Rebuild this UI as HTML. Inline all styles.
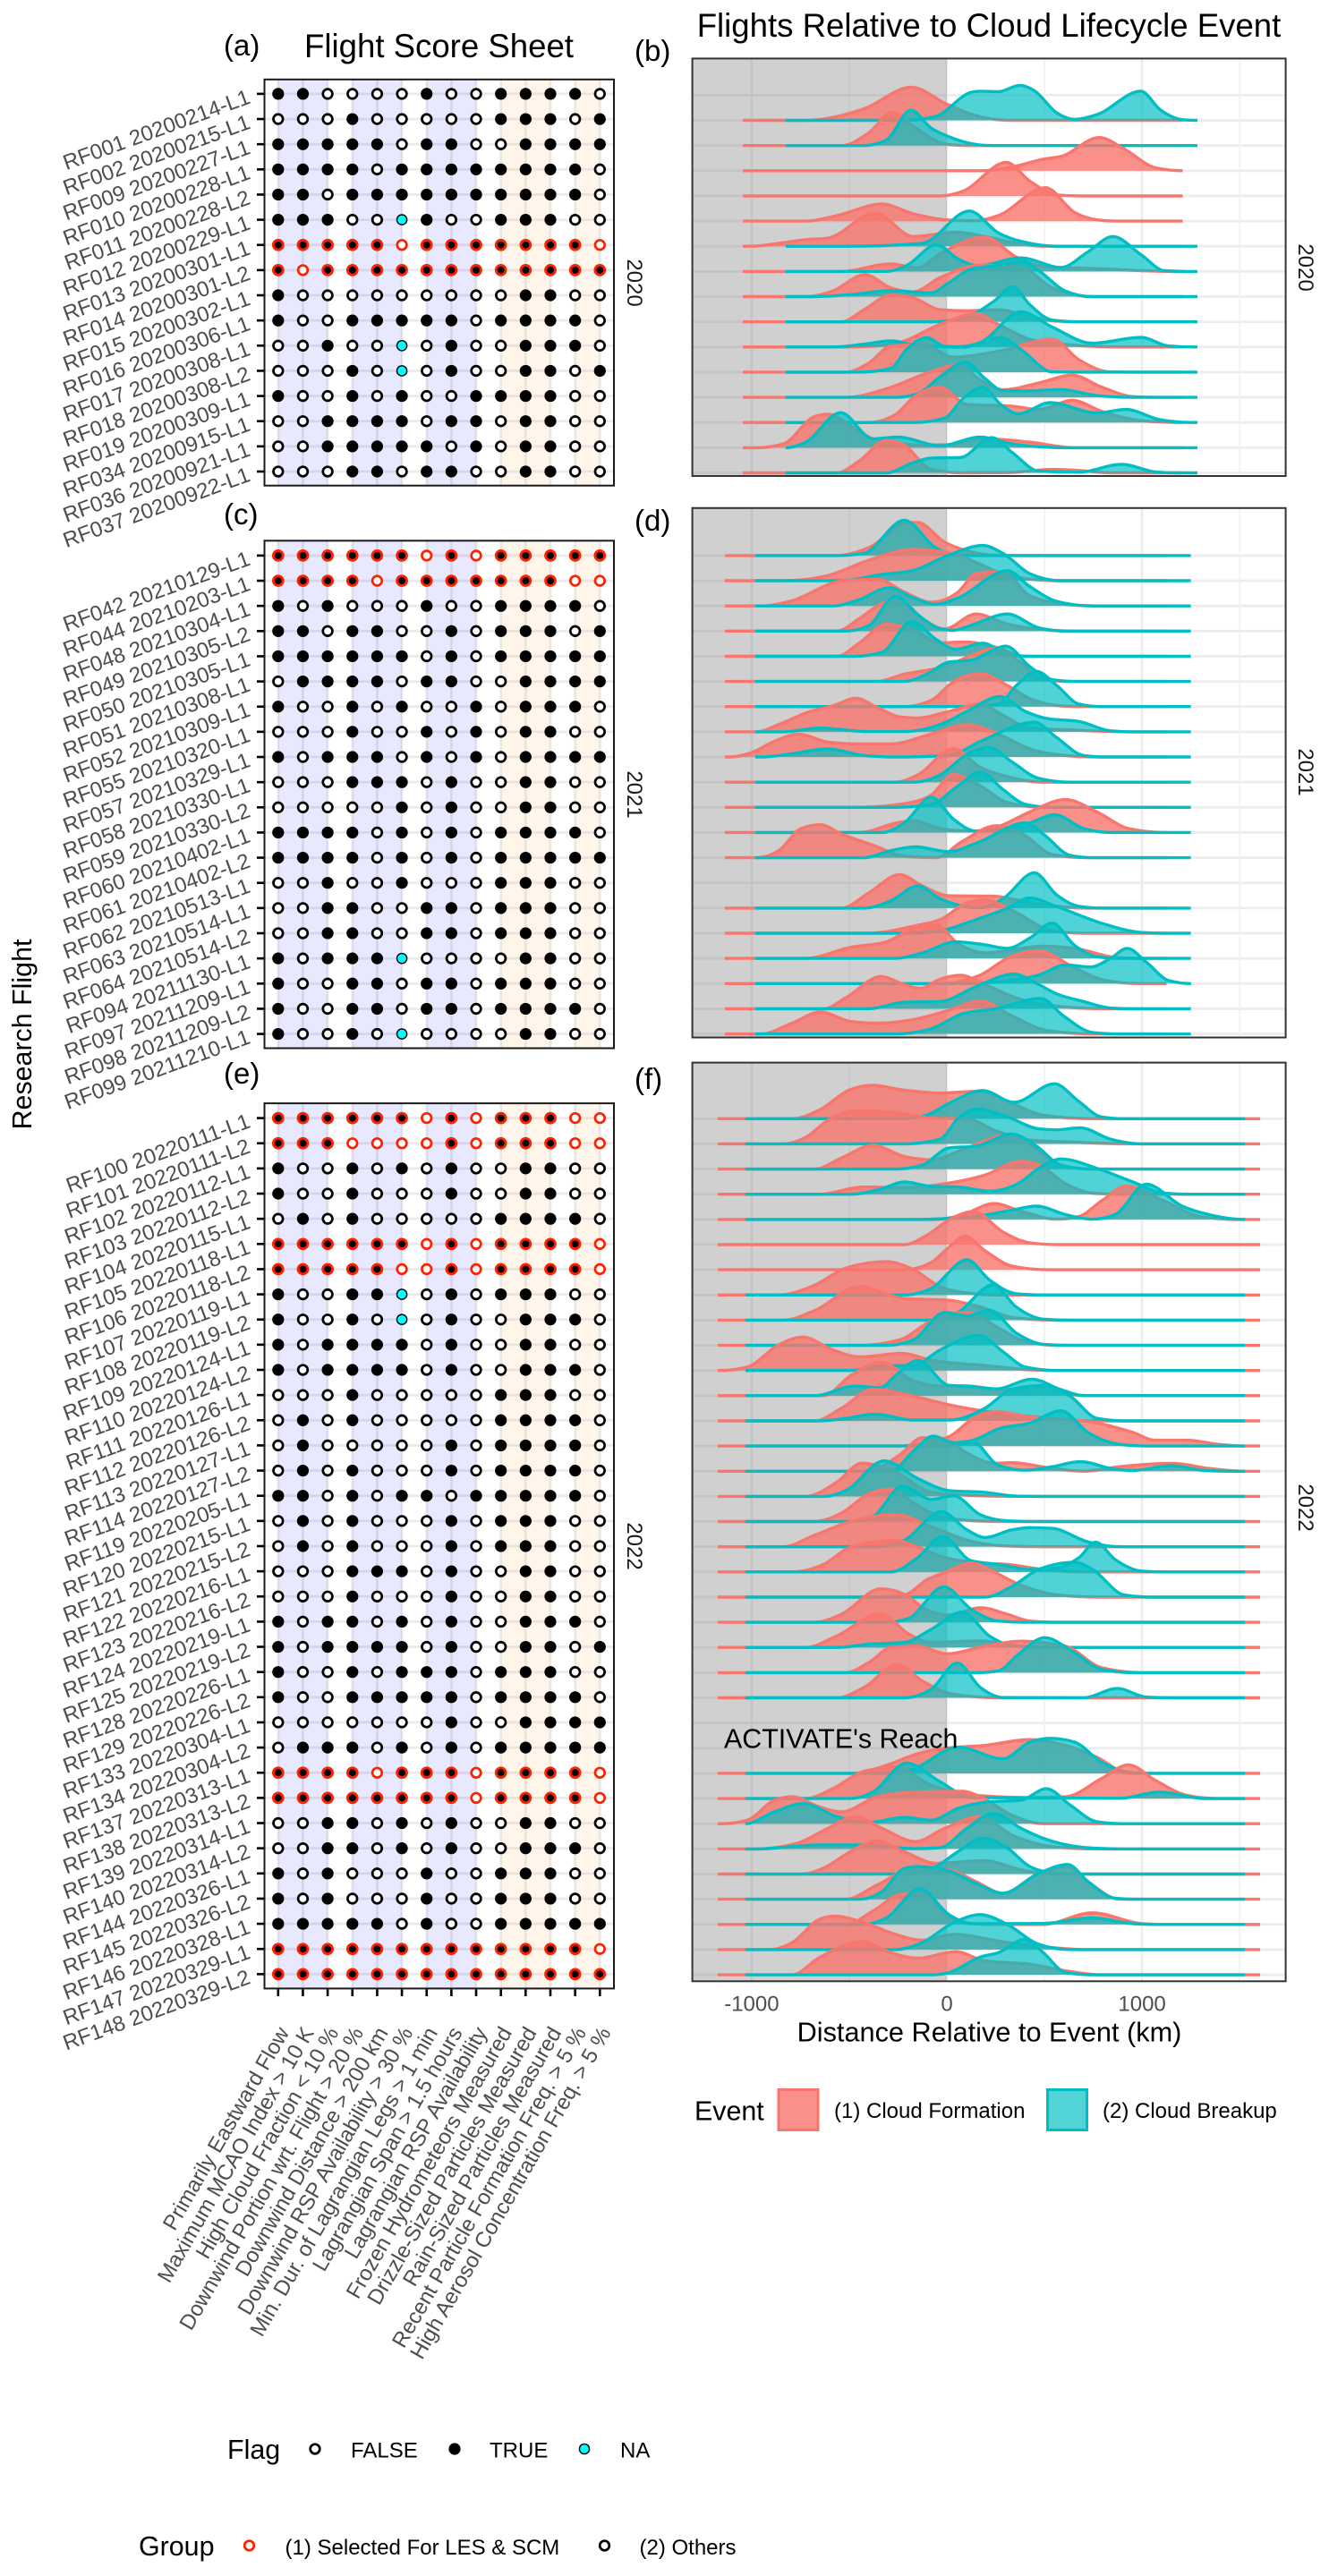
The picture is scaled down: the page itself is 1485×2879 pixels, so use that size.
<!DOCTYPE html>
<html lang="en">
<head>
<meta charset="utf-8">
<title>ACTIVATE Flight Score Sheet and Cloud Lifecycle Ridges</title>
<style>
html,body{margin:0;padding:0;background:#fff;}
svg{display:block;font-family:"Liberation Sans",Arial,sans-serif;}
.tag{font-size:33px;fill:#000;}
.title{font-size:36.6px;fill:#000;text-anchor:middle;}
.strip{font-size:24px;fill:#1a1a1a;text-anchor:middle;}
.axt{font-size:30.4px;fill:#000;}
.tick{font-size:24px;fill:#4d4d4d;}
.crit{font-size:24px;fill:#4d4d4d;}
.leg{font-size:24px;fill:#000;}
</style>
</head>
<body>
<svg id="chart" xmlns="http://www.w3.org/2000/svg" width="1485" height="2879" viewBox="0 0 1485 2879">
<rect x="0" y="0" width="1485" height="2879" fill="#fff"/>
<text class="tag" x="250" y="62">(a)</text>
<text class="tag" x="250" y="586">(c)</text>
<text class="tag" x="250" y="1211">(e)</text>
<text class="tag" x="709" y="68">(b)</text>
<text class="tag" x="709" y="593">(d)</text>
<text class="tag" x="709" y="1217">(f)</text>
<text class="title" x="490.5" y="64">Flight Score Sheet</text>
<text class="title" x="1105" y="41">Flights Relative to Cloud Lifecycle Event</text>
<text class="axt" transform="translate(35,1156) rotate(-90)" text-anchor="middle">Research Flight</text>
<text class="strip" transform="translate(701,316) rotate(90)">2020</text>
<text class="strip" transform="translate(701,888) rotate(90)">2021</text>
<text class="strip" transform="translate(701,1728) rotate(90)">2022</text>
<text class="strip" transform="translate(1451,299) rotate(90)">2020</text>
<text class="strip" transform="translate(1451,863) rotate(90)">2021</text>
<text class="strip" transform="translate(1451,1685) rotate(90)">2022</text>
<g id="score2020"></g>
<g id="score2021"></g>
<g id="score2022"></g>
<g id="ridge2020"></g>
<g id="ridge2021"></g>
<g id="ridge2022"></g>
<g id="criteriaLabels"></g>
<g id="kmLabels"></g>
<text x="809" y="1953.5" style="font-size:30.4px" fill="#000">ACTIVATE's Reach</text>
<text class="axt" x="1105.5" y="2281.5" text-anchor="middle" style="font-size:30.7px">Distance Relative to Event (km)</text>
<g>
<text class="axt" x="776" y="2369.5">Event</text>
<rect x="870" y="2335.5" width="44" height="45" fill="#F8766D" fill-opacity=".8" stroke="#F8766D" stroke-width="3"/>
<text class="leg" x="932" y="2367">(1) Cloud Formation</text>
<rect x="1170.5" y="2335.5" width="44" height="45" fill="#00BFC4" fill-opacity=".68" stroke="#00BFC4" stroke-width="3"/>
<text class="leg" x="1232" y="2367">(2) Cloud Breakup</text>
</g>
<g>
<text class="axt" x="254" y="2748">Flag</text>
<circle cx="352" cy="2737" r="5.3" fill="#fff" stroke="#000" stroke-width="2.7"/>
<text class="leg" x="392" y="2746.5">FALSE</text>
<circle cx="508" cy="2737" r="6.6" fill="#000"/>
<text class="leg" x="547" y="2746.5">TRUE</text>
<circle cx="653" cy="2737" r="5.6" fill="#00ffff" stroke="#000" stroke-width="1.4"/>
<text class="leg" x="693" y="2746.5">NA</text>
</g>
<g>
<text class="axt" x="155" y="2856">Group</text>
<circle cx="278.5" cy="2845" r="5.3" fill="#fff" stroke="#ff2000" stroke-width="2.7"/>
<text class="leg" x="318.5" y="2855">(1) Selected For LES &amp; SCM</text>
<circle cx="675.5" cy="2845" r="5.3" fill="#fff" stroke="#000" stroke-width="2.7"/>
<text class="leg" x="714.5" y="2855">(2) Others</text>
</g>
</svg>
<script>
// ---------- score sheet data ----------
const criteria = ["Primarily Eastward Flow","Maximum MCAO Index > 10 K","High Cloud Fraction < 10 %","Downwind Portion wrt. Flight > 20 %","Downwind Distance > 200 km","Downwind RSP Availability > 30 %","Min. Dur. of Lagrangian Legs > 1 min","Lagrangian Span > 1.5 hours","Lagrangian RSP Availability","Frozen Hydrometeors Measured","Drizzle-Sized Particles Measured","Rain-Sized Particles Measured","Recent Particle Formation Freq. > 5 %","High Aerosol Concentration Freq. > 5 %"];
const flights2020 = ["RF001 20200214-L1","RF002 20200215-L1","RF009 20200227-L1","RF010 20200228-L1","RF011 20200228-L2","RF012 20200229-L1","RF013 20200301-L1","RF014 20200301-L2","RF015 20200302-L1","RF016 20200306-L1","RF017 20200308-L1","RF018 20200308-L2","RF019 20200309-L1","RF034 20200915-L1","RF036 20200921-L1","RF037 20200922-L1"];
const flights2021 = ["RF042 20210129-L1","RF044 20210203-L1","RF048 20210304-L1","RF049 20210305-L2","RF050 20210305-L1","RF051 20210308-L1","RF052 20210309-L1","RF055 20210320-L1","RF057 20210329-L1","RF058 20210330-L1","RF059 20210330-L2","RF060 20210402-L1","RF061 20210402-L2","RF062 20210513-L1","RF063 20210514-L1","RF064 20210514-L2","RF094 20211130-L1","RF097 20211209-L1","RF098 20211209-L2","RF099 20211210-L1"];
const flights2022 = ["RF100 20220111-L1","RF101 20220111-L2","RF102 20220112-L1","RF103 20220112-L2","RF104 20220115-L1","RF105 20220118-L1","RF106 20220118-L2","RF107 20220119-L1","RF108 20220119-L2","RF109 20220124-L1","RF110 20220124-L2","RF111 20220126-L1","RF112 20220126-L2","RF113 20220127-L1","RF114 20220127-L2","RF119 20220205-L1","RF120 20220215-L1","RF121 20220215-L2","RF122 20220216-L1","RF123 20220216-L2","RF124 20220219-L1","RF125 20220219-L2","RF128 20220226-L1","RF129 20220226-L2","RF133 20220304-L1","RF134 20220304-L2","RF137 20220313-L1","RF138 20220313-L2","RF139 20220314-L1","RF140 20220314-L2","RF144 20220326-L1","RF145 20220326-L2","RF146 20220328-L1","RF147 20220329-L1","RF148 20220329-L2"];
const selected = ["RF013","RF014","RF042","RF044","RF100","RF101","RF105","RF106","RF137","RF138","RF147","RF148"];
const flags2020 = ["TTFFFFTFFTTTTF","FFFTFFFFFTTTFT","TTTTTFTTFFTTTT","TTTTFTTTTTTTTF","TTFTTTTTTTTTTF","TTTFFNTFFTTTFF","TTTTTFTTTTTTTF","TFTTTTTTTTTTTT","TFFFFFFFFFTTFF","TFFTTTTTFTTTTF","FFTFFNFTFFTTTF","FFFTFNFTFFTTFT","TFFTFTFFTTTTFF","FFTTTTFTTFTTFF","FFTTTTTFTFTTFF","FFFTTFTTFFTTFF"];
const flags2021 = ["TTTTTTFTFTTTTT","TTTTFTTTTTTTFF","TFTFFFTFFTTTTF","TTFTTFFTFTTTFT","TTTTTTFTFTTTTT","FTTTTFTTFFTTTT","TFFTFTFFTFTTTF","FFFTFFTFTFTTFF","TFTTTFTFTFTTTT","FFFTTTFTFFTTFF","FFFFFTFTFFTTFF","TTTTFTFTFTTTTF","TTTTFTFTFTTTTT","FFTFFTFFFTTTFF","FFTTFFTTFTTTFF","FFTTFFTTFTTTFF","TFTTTNFFFFTTFF","TFFTTFTTFTTTFF","TFFTTFTTFTTTTF","TFFTFNFFFFTTFF"];
const flags2022 = ["TTTTTTFTFTTTFF","TTTFFFFTFTTTFF","TFFTFTFTFFTTFF","TFFTFFFTFFTTFF","FTFTFFFFFTTTTF","TTTTTTFTFTTTTF","TTTTTFFTFTTTTF","TFFTTNFTFTTTFF","TFFTFNFTFFTTTF","TFTTTTFTFFTTFF","TFTTTTFTFFTTTF","FFFTFFFFFTTTFF","FTFTFFFFFTTTTF","FTFFFFFTFTTTTF","FTFTFFFTFTTTTF","TTFTFTTFTTTTTF","FTFTFFFTFTTTFF","FTFTFFFTFTTTFF","FFFTTTFTFFTTFF","FFFTFFFTFFTTFF","TFTTFTFTFFTTTF","TFTTTTFTFFTTFT","TFFTFTTTFTTTFF","TFFTTTTTFTTTTF","FFFFFFFTFFTTTT","FTTTFTFTFTTTTT","TTTTFTTTFTTTTF","TTTTTTTTFTTTTF","FFTTFTFTFFTTFF","FFTTFTFTFFTTTF","TFTFFFTFFTTTFF","TFTFFFTFFTTTFF","TTTTTFTFFTTTTT","TTTTTTTTTTTTTF","TTTTTTTTTTTTTT"];
const bandsBlue = [[1,3],[4,6],[7,9]];
const bandsOrange = [[10,12],[13,14]];
// ---------- ridge data: flat [km, density-height, km, density-height ...] per flight ----------
const distanceTicks = [-1000,0,1000];
const distanceMinorTicks = [-500,500,1500];
const formationRange2020 = [-1045,1208];
const breakupRange2020 = [-826,1284];
const formationRange2021 = [-1137,1125];
const breakupRange2021 = [-981,1250];
const formationRange2022 = [-1174,1605];
const breakupRange2022 = [-1032,1527];
const formation2020 = [null,
[-723,0,-425,.46,-181,1.32,0,.64,195,.1,333,0],
[-540,0,-402,.49,-276,1.33,-172,.76,0,.05,103,0],
[172,0,356,.19,494,.46,586,.57,781,1.32,907,.87,1068,.12,1205,0],
[-34,0,80,.18,305,1.33,425,.59,563,.04,677,0],
[-723,0,-563,.22,-333,.68,-172,.29,11,.04,138,.01,264,.22,505,1.33,654,.35,769,.05,861,0],
[-999,0,-861,.12,-723,.26,-608,.33,-367,1.32,-172,.39,46,.56,195,.39,356,.12,494,0],
[-540,0,-287,.3,-149,.14,-34,.71,195,1.36,356,.57,540,.16,746,.12,999,.03,1137,0],
[-723,0,-585,.22,-420,.87,-287,.35,-172,.19,-34,.76,172,1.25,379,1.17,540,.35,746,0],
[-540,0,-425,.48,-287,1.06,-172,.95,-34,.48,103,.44,264,.48,425,.2,563,.03,677,0],
[-494,0,-264,.14,-34,.9,149,1.33,264,.9,425,.31,654,.07,884,0],
[-517,0,-402,.35,-287,1.03,-126,1.1,34,.6,264,.83,540,1.31,677,.49,838,.01,953,0],
[-517,0,-310,.34,-80,1.02,57,1.29,172,.68,287,.3,471,.57,643,.88,792,.41,953,.03,1091,0],
[-402,0,-264,.31,-172,.99,-34,1.4,103,.72,333,.65,471,.52,643,.88,792,.45,999,.07,1205,0],
[-976,0,-838,.15,-677,1.24,-608,1.33,-471,.76,-356,.29,-126,.11,11,.12,195,.35,425,.22,654,0],
[-563,0,-448,.48,-310,1.29,-218,1.09,-80,.14,80,0,310,.01,540,.14,654,.11,838,0]];
const breakup2020 = [null,
[-218,0,-57,.16,126,1.12,172,1.16,264,1.14,374,1.39,448,1.18,563,.3,654,.04,769,.23,994,1.16,1091,.44,1205,.03,1284,0],
[-425,0,-310,.22,-184,1.4,-80,.69,11,.35,195,.01,264,0],
null,null,null,
[-494,0,-126,.12,115,1.4,264,.53,425,.12,563,0],
[-310,0,-207,.23,-53,1.06,57,.5,161,.23,379,.54,585,.16,723,.78,850,1.39,999,.64,1114,.03,1228,0],
[-677,0,-494,.08,-287,.24,-80,.15,11,.56,126,1.1,264,1.24,390,1.4,471,1.03,608,.22,746,0],
[-80,0,103,.2,241,.82,338,1.39,425,.68,540,.07,677,0],
[-585,0,-425,.11,-287,.24,-126,.03,57,.01,172,.18,379,1.4,540,.79,746,.15,994,.38,1137,.04,1274,0],
[-448,0,-287,.15,-207,.9,-103,1.37,-11,1.03,80,.99,276,1.37,379,.9,540,.01,654,0],
[-264,0,-149,.14,-34,.82,96,1.4,195,.75,287,.27,425,.26,585,.31,769,.07,953,0],
[-172,0,-11,.18,80,.93,184,1.4,276,.72,367,.35,528,.79,769,.38,918,.52,1091,.11,1251,0],
[-826,0,-723,.22,-544,1.39,-379,.35,-253,.42,-34,.08,172,.42,333,.15,608,0],
[-310,0,-172,.41,-80,.59,69,.61,230,1.4,333,.82,471,.07,677,.03,895,.34,1068,.04,1182,0]];
const formation2021 = [
[-563,0,-402,.31,-195,1.31,-149,1.31,-11,.53,103,.19,264,.01,380,0],
[-838,0,-608,.21,-402,.81,-172,1.24,46,1.05,172,.65,310,.21,563,0],
[-953,0,-792,.21,-540,.99,-356,1.06,-218,.55,-80,.15,57,.55,149,1.28,287,1.36,425,.4,654,.03,780,0],
[-563,0,-448,.5,-333,1.09,-241,1.24,-126,.5,-11,.09,149,.68,310,.28,540,.03,660,0],
[-563,0,-448,.53,-310,1.27,-172,1.05,-34,.53,92,.57,241,.38,402,0],
[-356,0,-218,.29,-103,.44,-11,.59,126,1.03,264,1.33,379,.74,494,.07,632,0],
[-218,0,-80,.25,34,.99,172,1.31,310,.84,425,.32,585,.03,700,0],
[-976,0,-861,.29,-700,.81,-585,1.03,-464,1.33,-356,.96,-241,.59,-149,.55,11,.81,172,1.1,287,.66,425,.15,654,.07,930,0],
[-1114,0,-999,.18,-884,.62,-762,.91,-608,.59,-448,.52,-287,.52,-80,.91,103,1.28,264,.91,425,.32,608,.06,769,0],
[-264,0,-149,.29,34,1.33,172,.59,310,.22,494,0],
[-448,0,-218,.15,-80,.49,34,1.3,172,.85,310,.19,494,0],
[-448,0,-241,.41,-172,.46,-34,.16,126,.06,264,.24,425,.82,608,1.31,769,.82,930,.16,1114,0],
[-976,0,-861,.28,-746,1.16,-648,1.31,-540,.94,-379,.5,-218,.06,-57,0,80,.65,253,1.27,402,.87,540,.13,723,0],
null,
[-540,0,-402,.59,-241,1.33,-126,.88,11,.49,241,.47,379,.29,563,.07,700,0],
[-402,0,-149,.32,-34,.54,103,1.21,195,1.33,333,.91,540,.1,700,0],
[-723,0,-494,.44,-310,.66,-149,1.25,-57,1.33,57,.59,195,.22,494,.49,677,.37,861,.04,999,0],
[-34,0,172,.34,310,1,471,1.3,654,.63,815,.12,999,0],
[-631,0,-517,.44,-338,1.28,-218,.96,-138,.81,-34,1.18,69,1.33,195,.96,379,.37,608,.07,815,0],
[-953,0,-792,.43,-648,.87,-494,.5,-356,.43,-172,.57,11,.94,172,1.31,333,.72,517,.13,769,0]];
const breakup2021 = [
[-563,0,-425,.09,-218,1.4,-57,.31,57,.01,172,0],
[-540,0,-333,.25,-172,.41,11,1.02,184,1.4,287,1.09,425,.28,585,0],
[-585,0,-448,.25,-298,.72,-172,.32,-57,.07,57,.32,310,1.4,425,.77,563,.18,746,0],
[-517,0,-402,.21,-264,1.38,-149,.65,-34,.09,34,.03,126,.24,310,.68,471,.13,608,0],
[-471,0,-333,.16,-179,1.38,-57,.68,46,.28,184,.52,310,.09,425,0],
[-218,0,-103,.29,11,.77,126,.85,303,1.4,425,.59,540,.07,654,0],
[103,0,264,.1,356,.84,459,1.4,563,.84,677,.1,792,0],
[-838,0,-654,.15,-402,.01,-218,.01,-34,.29,103,.81,271,1.4,402,.81,517,.52,677,.41,838,.04,953,0],
[-953,0,-792,.13,-613,.32,-425,.06,-264,0,11,.06,172,.62,448,1.38,563,.77,700,.06,815,0],
[-172,0,-34,.29,103,1.1,218,1.38,333,.81,471,.15,632,0],
[-264,0,-80,.12,57,.85,172,1.4,287,.71,402,.12,540,0],
[-333,0,-218,.38,-80,1.4,34,.53,149,.06,310,.16,425,.38,551,.71,700,.16,838,0],
[-425,0,-287,.28,-161,.43,11,.24,149,.57,402,1.38,494,.94,632,.09,746,0],
null,
[-425,0,-287,.29,-149,.88,-34,.37,172,.01,287,.37,448,1.4,563,.52,677,.07,792,0],
[-218,0,-34,.1,149,.54,310,.99,425,1.4,563,1.06,792,.4,999,.03,1137,0],
[-264,0,-126,.22,46,.66,195,.54,310,.4,425,.81,540,1.4,654,.52,769,.07,884,0],
[103,0,310,.12,471,.34,608,.74,735,.66,838,1,925,1.4,1022,.85,1137,.12,1251,0],
[-402,0,-218,.26,-34,.29,149,.88,344,1.38,471,.96,563,.59,700,.29,838,.03,953,0],
[-264,0,-80,.21,80,.8,241,.99,482,1.41,597,.72,746,.06,884,0]];
const formation2022 = [
[-792,0,-654,.34,-494,1.16,-379,1.33,-241,1.16,-34,1.02,172,1.09,333,.61,494,.14,746,0],
[-838,0,-723,.26,-608,.94,-471,1.32,-264,1.24,-57,1.01,103,1,241,.55,425,.15,654,.07,907,0],
[-677,0,-540,.44,-379,.94,-218,.5,-80,.37,103,.84,310,1.35,425,.98,608,.1,746,0],
[-654,0,-425,.29,-218,.26,-34,.39,195,.76,379,1.31,471,1.17,608,.42,746,.04,884,0],
[-57,0,80,.19,241,.63,379,.33,563,.01,677,.12,792,.73,918,1.32,1114,.73,1297,.12,1481,0],
[-218,0,-103,.37,11,.98,138,1.32,287,.5,425,.07,563,0],
[-218,0,-80,.29,11,.9,92,1.33,195,.76,333,.15,517,0],
[-861,0,-677,.39,-517,1.07,-310,1.32,-172,1.01,-34,.33,103,.08,264,0],
[-838,0,-677,.38,-448,1.33,-218,.86,11,.79,172,.52,333,.11,540,0],
[-448,0,-241,.22,-80,.97,103,1.31,264,.69,379,.22,563,0],
[-1160,0,-1022,.14,-861,1.02,-739,1.33,-585,.82,-448,.54,-230,.68,-80,.41,195,.2,425,.03,585,0],
[-631,0,-494,.79,-338,1.33,-172,.59,-34,.38,103,.38,287,.24,517,.38,632,.04,769,0],
[-677,0,-540,.5,-379,1.25,-172,.98,11,.64,241,.33,471,.14,746,0],
[-264,0,0,.34,149,1.16,253,1.36,425,1.16,746,.95,953,.54,1068,.23,1228,.23,1389,.07,1527,0],
[-402,0,-241,.65,-126,1.33,-11,1.27,103,.72,241,.31,333,.34,517,.14,700,0,884,.18,1159,.31,1343,.11,1527,0],
[-723,0,-563,.57,-436,1.32,-264,.98,-80,.16,149,.03,333,0],
[-677,0,-540,.34,-402,1.09,-287,1.29,-172,.75,-34,.2,126,.04,310,0],
[-838,0,-677,.46,-494,1,-264,1.28,-80,.8,103,.26,264,.05,471,0],
[-792,0,-631,.3,-494,.98,-264,1.25,-149,.98,-11,.57,149,.37,310,.3,494,.1,677,0],
[-379,0,-218,.09,-103,.68,0,1.01,126,1.35,241,1,356,.55,563,.09,792,0],
[-677,0,-540,.32,-338,1.33,-218,1.11,-103,.5,11,.29,172,.58,310,.32,425,.05,563,0],
[-723,0,-563,.46,-340,1.34,-195,.53,-80,.2,172,.26,379,.07,563,0],
[-517,0,-402,.39,-287,.99,-149,1.05,0,.75,195,1.05,379,1.25,608,1.05,792,.2,999,0],
[-563,0,-425,.41,-253,1.32,-126,.67,34,.14,264,0],
null,null,
[-471,0,-310,.32,-149,.78,-34,.97,195,1.11,425,1.34,608,1.11,769,.64,930,0],
[-723,0,-585,.39,-425,1.08,-264,1.25,-80,.53,149,.13,425,.04,608,.07,792,.79,930,1.34,1068,.72,1228,.13,1389,0],
[-1148,0,-1022,.14,-884,.93,-792,1.07,-654,.67,-540,.47,-356,1.07,-149,1.26,80,1.29,172,1.07,333,.34,494,0],
[-976,0,-769,.22,-608,.82,-471,1.28,-333,.82,-161,.29,-11,.82,172,1.28,333,.55,540,.09,769,0],
[-746,0,-631,.24,-494,.89,-360,1.32,-218,.89,-57,.43,195,.53,379,.17,563,0],
[-517,0,-356,.57,-172,1.22,11,1.16,149,.7,287,.24,471,1.03,620,1.3,723,.7,884,0],
[-517,0,-379,.53,-241,1.18,-126,1.25,11,.26,195,0,494,0,746,.46,999,.03,1114,0],
[-907,0,-792,.28,-654,1.2,-574,1.33,-425,1.07,-264,.61,-126,.37,34,.61,310,.28,540,.08,700,0],
[-792,0,-654,.68,-436,1.32,-287,.88,-149,.66,46,.92,195,.55,425,.42,632,.13,792,0]];
const breakup2022 = [
[-218,0,-103,.14,11,.61,184,1.12,344,.65,551,1.39,677,.68,792,.07,907,0],
[-218,0,-34,.19,57,1.01,154,1.39,310,1.07,471,.6,563,.56,682,.64,838,.19,999,0],
[-264,0,-126,.16,11,.84,149,.91,333,1.39,459,.91,585,.16,746,0],
[-494,0,-333,.22,-218,.49,-80,.31,57,.29,218,.12,379,.49,471,1.03,585,1.4,769,1.03,953,.49,1114,.04,1251,0],
[-172,0,126,.1,310,.33,459,.53,608,.19,746,.01,861,.19,1022,1.4,1205,.53,1343,.19,1527,0],
null,null,
[-218,0,-80,.26,103,1.4,218,.6,356,.05,494,0],
[-80,0,57,.31,236,1.4,356,.52,494,.04,632,0],
[-310,0,-172,.22,-11,1.31,103,1.17,218,1.4,356,.49,494,.04,632,0],
[-494,0,-333,.18,-172,.2,-34,.82,165,1.4,287,.75,402,.14,563,0],
[-677,0,-471,.38,-344,.31,-264,.79,-149,1.4,11,.41,103,.38,253,.27,436,.65,585,.24,700,0],
[-654,0,-517,.1,-367,.27,-172,.03,11,.03,195,.5,333,1.25,494,1.41,632,.98,769,.1,907,0],
[-34,0,149,.27,264,.68,425,.91,585,1.4,723,.54,884,.07,1022,0],
[-287,0,-172,.79,-69,1.4,34,1.13,126,1.2,264,.24,402,.04,540,.18,682,.38,861,.08,953,.03,1148,.22,1320,.03,1458,0],
[-631,0,-517,.23,-321,1.41,-149,.71,11,.23,195,.16,356,.01,494,0],
[-494,0,-379,.2,-227,1.4,-80,.88,34,1.02,172,.27,310,.03,471,0],
[-356,0,-218,.26,-28,1.4,103,.67,195,.37,333,.67,425,.76,540,.73,723,.19,861,.01,976,0],
[-287,0,-149,.57,-23,1.41,126,.44,264,.3,425,.1,563,.16,677,.57,762,1.18,861,.5,999,.03,1114,0],
[195,0,333,.42,471,1.1,654,1.38,746,1.1,907,.09,1045,0],
[-310,0,-195,.16,-16,1.41,126,.51,264,.05,402,0],
[-563,0,-402,.13,-218,.2,-80,.72,80,1.41,218,.46,333,.07,494,0],
[149,0,264,.07,356,.66,501,1.39,654,.79,792,.13,953,0],
[-218,0,-80,.34,53,1.39,172,.41,287,.01,700,0,873,.37,1022,.03,1159,0],
null,null,
[-310,0,-172,.18,57,1.04,287,.58,425,1.24,528,1.39,654,1.24,792,.45,953,.03,1050,0],
[-494,0,-379,.26,-207,1.41,-34,.66,126,.04,884,.01,1091,.26,1320,0],
[-1031,0,-884,.47,-735,.8,-563,.28,-402,.05,-218,.25,-80,.14,57,.61,218,.87,379,.93,510,1.39,632,.74,769,.08,907,0],
[-976,0,-654,.16,-448,.16,-172,.01,-34,.05,103,.82,241,1.41,379,.82,494,.42,746,.03,884,0],
[-218,0,-57,.3,57,.89,184,1.42,310,1.03,425,.3,563,.03,690,0],
[-448,0,-333,.3,-218,1.22,-149,1.3,11,1.12,149,.63,287,.24,471,1.03,620,1.38,723,.7,861,.04,976,0],
[-425,0,-310,.26,-138,1.41,11,.39,126,.03,494,.04,746,.26,953,.03,1091,0],
[-264,0,-126,.28,34,1.07,172,1.39,310,1,471,.21,632,0],
[-80,0,11,.09,172,.71,264,.88,402,1.41,494,.88,608,.09,746,0]];

// ---------- geometry and axis functions ----------
const svg = document.getElementById('chart');
const NS = 'http://www.w3.org/2000/svg';
const ROW = 28.14;
const SCORE_LEFT = 295.5, SCORE_RIGHT = 686;
const RIDGE_LEFT = 773.6, RIDGE_RIGHT = 1436.6;
function colX(j){ return 310.8 + j * 27.654; }
function kmX(km){ return 1058 + km * 0.2181; }
function make(parent, tag, attrs, text){
  const n = document.createElementNS(NS, tag);
  for (const k in attrs) n.setAttribute(k, attrs[k]);
  if (text !== undefined) n.textContent = text;
  parent.appendChild(n);
  return n;
}
function monotonePath(p){
  const n = p.length, t = new Array(n).fill(0), s = [], h = [];
  for (let i = 0; i < n - 1; i++){ h[i] = p[i+1][0]-p[i][0]; s[i] = (p[i+1][1]-p[i][1])/h[i]; }
  for (let i = 1; i < n - 1; i++){
    if (s[i-1]*s[i] <= 0) { t[i] = 0; continue; }
    const q = (s[i-1]*h[i]+s[i]*h[i-1])/(h[i-1]+h[i]);
    t[i] = Math.sign(s[i]) * Math.min(Math.abs(s[i-1]), Math.abs(s[i]), 0.5*Math.abs(q)) * 2;
  }
  let d = 'M' + p[0][0].toFixed(1) + ' ' + p[0][1].toFixed(1);
  for (let i = 0; i < n - 1; i++){
    const a = h[i]/3;
    d += 'C' + (p[i][0]+a).toFixed(1) + ' ' + (p[i][1]+t[i]*a).toFixed(1) + ' ' + (p[i+1][0]-a).toFixed(1) + ' ' + (p[i+1][1]-t[i+1]*a).toFixed(1) + ' ' + p[i+1][0].toFixed(1) + ' ' + p[i+1][1].toFixed(1);
  }
  return d;
}
function drawRidgeSeries(g, flat, range, y0, color, opacity, name){
  const pts = [];
  if (flat[0] > range[0]) pts.push([kmX(range[0]), y0]);
  for (let i = 0; i < flat.length; i += 2) pts.push([kmX(flat[i]), y0 - flat[i+1]*ROW]);
  if (flat[flat.length-2] < range[1]) pts.push([kmX(range[1]), y0]);
  const d = monotonePath(pts);
  const fill = make(g, 'path', {d: d + 'L' + pts[pts.length-1][0].toFixed(1) + ' ' + y0 + 'L' + pts[0][0].toFixed(1) + ' ' + y0 + 'Z', fill: color, 'fill-opacity': opacity, stroke: 'none'});
  
  
  const line = make(g, 'path', {d: d, fill: 'none', stroke: color, 'stroke-width': 3.4, 'stroke-linejoin': 'round', 'stroke-linecap': 'butt'});
  
  
}
function drawRidgePanel(id, top, bottom, firstY, flights, formation, breakup, redRange, cyanRange){
  const g = document.getElementById(id);
  const bg = make(g, 'rect', {x: RIDGE_LEFT, y: top, width: RIDGE_RIGHT-RIDGE_LEFT, height: bottom-top, fill: '#fff'});
  
  
  flights.forEach(function(f, i){
    const gl = make(g, 'line', {x1: RIDGE_LEFT, x2: RIDGE_RIGHT, y1: firstY+i*ROW, y2: firstY+i*ROW, stroke: '#ededed', 'stroke-width': 2.8});
    
    
  });
  distanceTicks.forEach(function(k){
    const gl = make(g, 'line', {x1: kmX(k), x2: kmX(k), y1: top, y2: bottom, stroke: '#ededed', 'stroke-width': 2.8});
    
    
  });
  distanceMinorTicks.forEach(function(k){
    const gl = make(g, 'line', {x1: kmX(k), x2: kmX(k), y1: top, y2: bottom, stroke: '#f0f0f0', 'stroke-width': 1.5});
    
    
  });
  const shade = make(g, 'rect', {x: RIDGE_LEFT, y: top, width: kmX(0)-RIDGE_LEFT, height: bottom-top, fill: '#808080', 'fill-opacity': .37});
  
  
  flights.forEach(function(f, i){
    const y0 = firstY + i*ROW;
    const key = f.split(' ')[0];
    if (formation[i]) drawRidgeSeries(g, formation[i], redRange, y0, '#F8766D', .8, key + '-formation');
    if (breakup[i]) drawRidgeSeries(g, breakup[i], cyanRange, y0, '#00BFC4', .69, key + '-breakup');
  });
  const border = make(g, 'rect', {x: RIDGE_LEFT, y: top, width: RIDGE_RIGHT-RIDGE_LEFT, height: bottom-top, fill: 'none', stroke: '#333', 'stroke-width': 2});
  
  
}
function drawScorePanel(id, top, bottom, firstY, flights, flags){
  const g = document.getElementById(id);
  const bg = make(g, 'rect', {x: SCORE_LEFT, y: top, width: SCORE_RIGHT-SCORE_LEFT, height: bottom-top, fill: '#fff'});
  
  
  flights.forEach(function(f, i){
    const gl = make(g, 'line', {x1: SCORE_LEFT, x2: SCORE_RIGHT, y1: firstY+i*ROW, y2: firstY+i*ROW, stroke: '#ebebeb', 'stroke-width': 2.8});
    
    
  });
  criteria.forEach(function(c, j){
    const gl = make(g, 'line', {x1: colX(j), x2: colX(j), y1: top, y2: bottom, stroke: '#ebebeb', 'stroke-width': 2.8});
    
    
  });
  bandsBlue.forEach(function(b){
    const r = make(g, 'rect', {x: colX(b[0]-1), y: top, width: colX(b[1]-1)-colX(b[0]-1), height: bottom-top, fill: '#0000ff', 'fill-opacity': .09});
    
    
  });
  bandsOrange.forEach(function(b){
    const r = make(g, 'rect', {x: colX(b[0]-1), y: top, width: colX(b[1]-1)-colX(b[0]-1), height: bottom-top, fill: '#ffa032', 'fill-opacity': .1});
    
    
  });
  flights.forEach(function(f, i){
    const y = firstY + i*ROW;
    const isSel = selected.indexOf(f.split(' ')[0]) >= 0;
    const tk = make(g, 'line', {x1: SCORE_LEFT-8.5, x2: SCORE_LEFT-1, y1: y, y2: y, stroke: '#000', 'stroke-width': 2.6});
    
    
    const lab = make(g, 'text', {class: 'tick', transform: 'translate(' + 281 + ',' + (y+10) + ') rotate(-20)', 'text-anchor': 'end'}, f);
    
    
    for (let j = 0; j < criteria.length; j++){
      const v = flags[i][j];
      let attrs;
      if (v === 'T') attrs = isSel ? {r: 5.4, fill: '#000', stroke: '#ff2000', 'stroke-width': 2.9} : {r: 6.6, fill: '#000', stroke: 'none'};
      else if (v === 'N') attrs = {r: 5.6, fill: '#00ffff', stroke: '#000', 'stroke-width': 1.4};
      else attrs = {r: 5.3, fill: '#fff', stroke: isSel ? '#ff2000' : '#000', 'stroke-width': 2.7};
      attrs.cx = colX(j); attrs.cy = y;
      const dot = make(g, 'circle', attrs);
      
      
    }
  });
  const border = make(g, 'rect', {x: SCORE_LEFT, y: top, width: SCORE_RIGHT-SCORE_LEFT, height: bottom-top, fill: 'none', stroke: '#1a1a1a', 'stroke-width': 2});
  
  
}
drawScorePanel('score2020', 88.8, 542.7, 104.9, flights2020, flags2020);
drawScorePanel('score2021', 604.3, 1171.5, 620.9, flights2021, flags2021);
drawScorePanel('score2022', 1233.1, 2222.4, 1249.6, flights2022, flags2022);
drawRidgePanel('ridge2020', 65.4, 532, 106.4, flights2020, formation2020, breakup2020, formationRange2020, breakupRange2020);
drawRidgePanel('ridge2021', 567.8, 1159.5, 620.9, flights2021, formation2021, breakup2021, formationRange2021, breakupRange2021);
drawRidgePanel('ridge2022', 1187.6, 2214.3, 1250.3, flights2022, formation2022, breakup2022, formationRange2022, breakupRange2022);
const critG = document.getElementById('criteriaLabels');
criteria.forEach(function(c, j){
  const tk = make(critG, 'line', {x1: colX(j), x2: colX(j), y1: 2223.4, y2: 2231, stroke: '#000', 'stroke-width': 2.6});
  
  
  const lab = make(critG, 'text', {class: 'crit', transform: 'translate(' + (colX(j)+13) + ',2271.5) rotate(-60)', 'text-anchor': 'end'}, c);
  
  
});
const kmG = document.getElementById('kmLabels');
distanceTicks.forEach(function(k){
  const lab = make(kmG, 'text', {class: 'tick', x: kmX(k), y: 2247.5, 'text-anchor': 'middle'}, String(k));
  
  
});
</script>
</body>
</html>
